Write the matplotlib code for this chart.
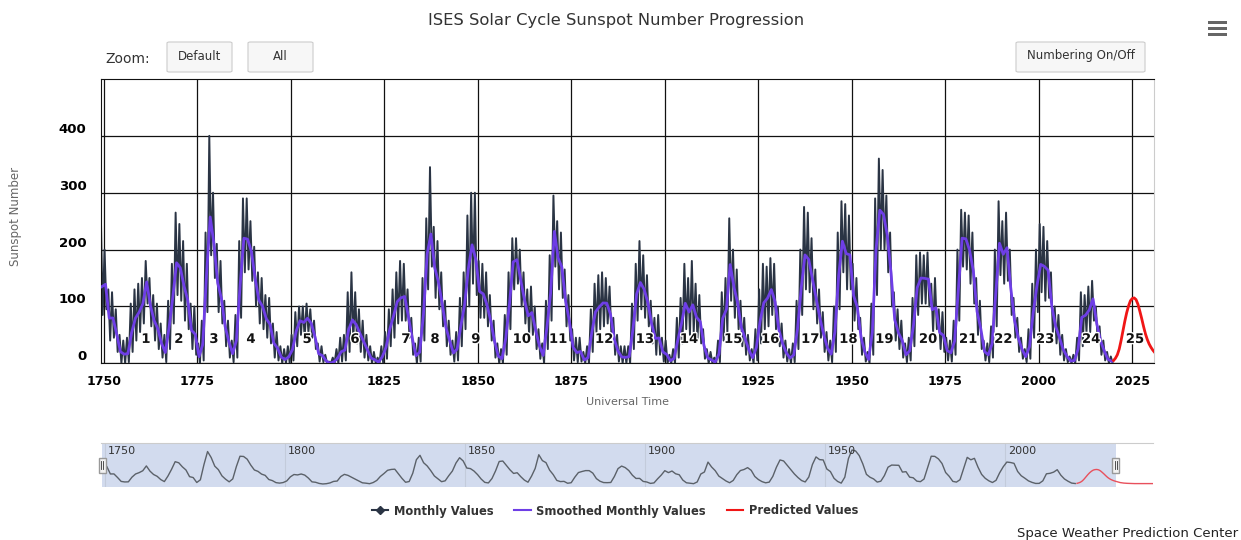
import matplotlib
matplotlib.use('Agg')
import matplotlib.pyplot as plt
import matplotlib.patheffects as pe
from matplotlib.patches import Rectangle, FancyBboxPatch
from matplotlib.lines import Line2D
from matplotlib.transforms import ScaledTranslation, blended_transform_factory

plt.rcParams['font.family'] = ['DejaVu Sans']

# ---- data (sunspot number) ----
years = list(range(1749, 2020))

# smoothed values (one per year)
smoothed = [
    134.7,
    139.0, 79.5, 79.7, 51.2, 20.3, 16.0, 17.0, 54.0, 79.3, 90.0,
    104.8, 143.2, 102.0, 75.2, 60.7, 34.8, 19.0, 63.0, 116.3, 176.8,
    168.0, 136.0, 110.8, 58.0, 51.0, 11.7, 33.0, 154.2, 257.3, 209.8,
    141.3, 113.5, 64.2, 38.0, 17.0, 40.2, 138.2, 220.0, 218.2, 196.8,
    149.8, 111.0, 100.0, 78.2, 68.3, 35.5, 26.7, 10.7, 6.8, 11.3,
    24.2, 56.7, 75.0, 71.8, 79.2, 70.3, 46.8, 16.8, 13.5, 4.2,
    0.0, 2.3, 8.3, 20.3, 23.2, 59.0, 76.3, 68.3, 52.9, 38.5,
    24.2, 9.2, 6.3, 2.2, 11.4, 28.2, 59.9, 83.0, 108.5, 115.2,
    117.4, 80.8, 44.3, 13.4, 19.5, 85.8, 192.7, 227.3, 168.7, 143.0,
    105.5, 63.3, 40.3, 18.1, 25.1, 65.8, 102.7, 166.3, 208.3, 182.5,
    126.3, 122.0, 102.7, 74.1, 39.0, 12.7, 8.2, 43.4, 104.4, 178.3,
    182.2, 146.6, 112.1, 83.5, 89.2, 57.8, 30.7, 13.9, 62.8, 123.6,
    232.0, 185.3, 169.2, 110.1, 74.5, 28.3, 18.9, 20.7, 5.7, 10.0,
    53.7, 90.5, 99.0, 106.1, 105.8, 86.3, 42.4, 21.8, 11.2, 10.4,
    11.8, 59.5, 121.7, 142.0, 130.0, 106.6, 69.4, 43.8, 44.4, 20.2,
    15.7, 4.6, 8.5, 40.8, 70.1, 105.5, 90.1, 102.8, 80.9, 73.2,
    30.9, 9.5, 6.0, 2.4, 16.1, 79.0, 95.0, 173.6, 134.6, 105.7,
    62.7, 43.5, 23.7, 9.7, 27.9, 74.0, 106.5, 114.7, 129.7, 108.2,
    59.4, 35.1, 18.6, 9.2, 14.6, 60.2, 132.8, 190.6, 182.6, 148.0,
    113.0, 79.2, 50.8, 27.1, 16.1, 55.3, 154.3, 214.7, 193.0, 190.7,
    118.9, 98.3, 45.0, 20.1, 6.6, 54.2, 200.7, 269.3, 261.7, 225.1,
    159.0, 76.4, 53.4, 39.9, 15.0, 22.0, 66.8, 132.9, 150.0, 149.4,
    148.0, 94.4, 97.6, 54.1, 49.2, 22.5, 18.4, 39.3, 131.0, 220.1,
    218.9, 198.9, 162.4, 91.0, 60.5, 20.6, 14.8, 33.9, 123.0, 211.1,
    191.8, 203.3, 133.0, 76.1, 44.9, 25.1, 11.6, 28.9, 88.3, 136.3,
    173.9, 170.4, 163.6, 99.3, 65.3, 45.8, 24.7, 12.6, 4.2, 4.8,
    24.9, 80.8, 84.5, 94.0, 113.3, 69.8, 39.8, 21.7, 7.0, 3.6,
]

# monthly values: highest and lowest month of each year
monthly_high = [
    265,
    200, 130, 125, 95, 50, 40, 45, 105, 130, 140,
    150, 180, 150, 120, 105, 70, 50, 110, 175, 265,
    245, 215, 175, 105, 100, 35, 75, 230, 400, 300,
    210, 180, 110, 75, 40, 85, 215, 290, 290, 250,
    205, 160, 150, 120, 115, 70, 55, 30, 25, 30,
    50, 90, 100, 100, 105, 95, 75, 35, 30, 15,
    3, 10, 25, 45, 50, 125, 160, 125, 95, 75,
    50, 30, 20, 10, 30, 55, 95, 130, 160, 180,
    175, 130, 80, 35, 45, 150, 255, 345, 240, 215,
    160, 110, 75, 40, 55, 115, 160, 260, 300, 300,
    180, 175, 160, 120, 75, 35, 25, 85, 160, 220,
    220, 200, 160, 130, 135, 100, 60, 35, 110, 190,
    295, 250, 230, 165, 120, 60, 45, 45, 20, 30,
    95, 140, 155, 160, 150, 135, 80, 50, 30, 30,
    30, 105, 175, 215, 190, 155, 110, 80, 85, 45,
    40, 15, 25, 80, 115, 175, 150, 180, 140, 120,
    60, 25, 20, 10, 40, 125, 150, 255, 200, 165,
    110, 80, 50, 25, 60, 130, 175, 170, 185, 175,
    100, 70, 40, 25, 35, 110, 200, 275, 265, 220,
    165, 130, 90, 55, 40, 100, 230, 285, 280, 260,
    175, 150, 80, 45, 20, 105, 290, 360, 340, 295,
    230, 125, 95, 75, 35, 45, 115, 190, 195, 190,
    195, 140, 150, 95, 90, 45, 40, 75, 200, 270,
    265, 260, 230, 150, 110, 40, 35, 65, 200, 285,
    250, 265, 200, 115, 80, 45, 25, 60, 140, 200,
    245, 240, 215, 160, 100, 85, 50, 25, 12, 15,
    45, 125, 120, 135, 145, 100, 65, 40, 20, 12,
]
monthly_low = [
    85,
    95, 40, 45, 20, 0, 0, 2, 20, 40, 55,
    70, 105, 65, 40, 25, 10, 2, 25, 70, 120,
    110, 75, 60, 25, 15, 0, 5, 90, 190, 150,
    90, 70, 30, 10, 2, 10, 80, 160, 165, 145,
    100, 70, 60, 45, 35, 10, 5, 0, 0, 0,
    5, 30, 50, 45, 55, 45, 25, 3, 2, 0,
    0, 0, 0, 3, 5, 20, 40, 35, 20, 10,
    5, 0, 0, 0, 0, 8, 30, 45, 70, 75,
    75, 45, 15, 0, 3, 40, 130, 170, 115, 95,
    65, 30, 15, 3, 5, 30, 60, 100, 140, 120,
    80, 80, 65, 40, 10, 0, 0, 15, 60, 130,
    140, 100, 70, 50, 50, 25, 8, 0, 25, 75,
    170, 130, 115, 65, 40, 5, 2, 3, 0, 0,
    20, 55, 60, 65, 70, 50, 15, 3, 0, 0,
    0, 25, 75, 95, 80, 65, 35, 15, 15, 3,
    0, 0, 0, 10, 35, 60, 50, 55, 40, 35,
    8, 0, 0, 0, 2, 40, 55, 110, 80, 60,
    30, 15, 5, 0, 5, 35, 60, 65, 85, 60,
    30, 10, 3, 0, 2, 25, 85, 130, 125, 95,
    70, 45, 20, 5, 2, 20, 95, 160, 130, 130,
    75, 60, 15, 3, 0, 15, 120, 200, 200, 160,
    100, 40, 25, 10, 2, 5, 30, 85, 105, 105,
    100, 55, 60, 25, 20, 5, 3, 15, 75, 170,
    165, 140, 105, 50, 25, 5, 2, 10, 65, 155,
    140, 145, 85, 45, 20, 8, 2, 8, 45, 90,
    125, 110, 115, 55, 35, 15, 5, 2, 0, 0,
    5, 30, 55, 55, 75, 40, 15, 5, 0, 0,
]

# cycle 25 prediction
pred_years = [2020.0, 2020.5, 2021.0, 2021.5, 2022.0, 2022.5, 2023.0, 2023.5,
              2024.0, 2024.5, 2025.0, 2025.5, 2026.0, 2026.5, 2027.0, 2027.5,
              2028.0, 2028.5, 2029.0, 2029.5, 2030.0, 2030.5, 2031.0, 2032.0,
              2033.0, 2034.0, 2035.0, 2036.0, 2037.0, 2038.0, 2039.0, 2040.0,
              2041.0]
pred_values = [5, 9, 15, 25, 40, 57, 74, 89,
               101, 110, 114, 115, 112, 104, 92, 79,
               65, 52, 42, 34, 28, 23, 19, 11,
               7, 5, 4, 3, 3, 3, 3, 3,
               3]

cycle_numbers = list(range(1, 26))
cycle_years = [1761.3, 1770.1, 1779.5, 1789.4, 1804.4, 1817.2, 1830.8, 1838.6,
               1849.5, 1861.8, 1871.5, 1883.8, 1894.7, 1906.5, 1918.3, 1928.2,
               1938.9, 1949.1, 1958.7, 1970.4, 1981.1, 1990.5, 2001.7, 2014.0,
               2025.7]

x_ticks = list(range(1750, 2026, 25))
y_ticks = [0, 100, 200, 300, 400]

# ---- figure ----
W, H = 1241, 540
def fx(x):
    return x / W
def fy(y):
    return 1 - y / H

MONTHLY = '#2a3444'
SMOOTH = '#6e3ee6'
PRED = '#f01616'

fig = plt.figure(figsize=(W / 100, H / 100), dpi=100)
ax = fig.add_axes([fx(101), fy(363.3), fx(1154) - fx(101), fy(79) - fy(363.3)])

mx, my = [], []
for yr, hi, lo in zip(years, monthly_high, monthly_low):
    mx += [yr + 0.25, yr + 0.75]
    my += [hi, lo]
ax.plot(mx, my, color=MONTHLY, lw=1.4, zorder=2)
ax.plot([y + 0.5 for y in years], smoothed, color=SMOOTH, lw=2, zorder=3)
ax.plot(pred_years, pred_values, color=PRED, lw=2, zorder=3)

for n, yr in zip(cycle_numbers, cycle_years):
    ax.text(yr, 42, str(n), ha='center', va='center', fontsize=9.5,
            fontweight='bold', color='#111111', zorder=5,
            path_effects=[pe.withStroke(linewidth=2, foreground='white')])

ax.set_xlim(1749.3, 2030.8)
ax.set_ylim(0, 500)
ax.set_xticks(x_ticks)
ax.set_yticks(y_ticks)
ax.grid(True, color='#111111', lw=0.9)
ax.set_axisbelow(True)
ax.tick_params(axis='x', length=0, pad=8.5, labelsize=9)
ax.tick_params(axis='y', length=0, pad=10.5, labelsize=9.5)
for lbl in ax.get_xticklabels():
    lbl.set_fontweight('bold')
for lbl in ax.get_yticklabels():
    lbl.set_fontweight('bold')
    lbl.set_transform(lbl.get_transform() + ScaledTranslation(0, 8 / 100, fig.dpi_scale_trans))
for s in ['left', 'top', 'bottom']:
    ax.spines[s].set_color('#111111')
ax.spines['right'].set_color('#cccccc')

# ---- texts ----
fig.text(fx(616), fy(21), 'ISES Solar Cycle Sunspot Number Progression',
         ha='center', va='center', fontsize=11.8, color='#333333')
fig.text(fx(16), fy(216), 'Sunspot Number', rotation=90, ha='center', va='center',
         fontsize=8.5, color='#666666')
fig.text(fx(627), fy(402), 'Universal Time', ha='center', va='center',
         fontsize=8, color='#666666')
fig.text(fx(1238), fy(533), 'Space Weather Prediction Center', ha='right', va='center',
         fontsize=9.5, color='#222222')
fig.text(fx(105), fy(59), 'Zoom:', ha='left', va='center', fontsize=10, color='#333333')

def button(x0, x1, label):
    fig.add_artist(FancyBboxPatch((fx(x0), fy(72)), fx(x1) - fx(x0), fy(42) - fy(72),
                                  boxstyle='round,pad=0,rounding_size=0.002',
                                  transform=fig.transFigure, fc='#f7f7f7',
                                  ec='#cccccc', lw=0.8))
    fig.text(fx((x0 + x1) / 2), fy(56), label, ha='center', va='center',
             fontsize=8.5, color='#333333')

button(167, 232, 'Default')
button(248, 313, 'All')
button(1016, 1145, 'Numbering On/Off')

# menu icon
for yb in [21, 27, 33]:
    fig.add_artist(Rectangle((fx(1208), fy(yb + 3)), fx(1227) - fx(1208), 3 / H,
                             transform=fig.transFigure, fc='#666666', ec='none'))

# ---- navigator ----
nav = fig.add_axes([fx(101), fy(487), fx(1153) - fx(101), fy(443) - fy(487)])
nav.set_xlim(1748.9, 2041.1)
nav.set_ylim(-24, 325)
nav.axvspan(1749.3, 2030.8, color='#d2dbee', lw=0, zorder=0)
bt = blended_transform_factory(nav.transData, nav.transAxes)
for yr in range(1750, 2001, 50):
    nav.axvline(yr, color='#c3cbdb', lw=0.8, zorder=1)
    nav.text(yr, 1, str(yr), ha='left', va='center', fontsize=8, color='#333333',
             transform=bt + ScaledTranslation(3 / 100, -8 / 100, fig.dpi_scale_trans))
nav.plot([y + 0.5 for y in years], smoothed, color='#5b6169', lw=1, zorder=2)
nav.plot(pred_years, pred_values, color='#e8505c', lw=1, zorder=2)
nav.set_xticks([])
nav.set_yticks([])
for s in ['left', 'right', 'bottom']:
    nav.spines[s].set_visible(False)
nav.spines['top'].set_color('#cccccc')

for hx in [1749.3, 2030.8]:
    ht = fig.dpi_scale_trans + ScaledTranslation(hx, 0.5, bt)
    nav.add_artist(Rectangle((-3.5 / 100, -7.5 / 100), 7 / 100, 15 / 100, transform=ht,
                             fc='#f2f2f2', ec='#999999', lw=1, clip_on=False, zorder=4))
    for dx in [-1, 1]:
        nav.add_artist(Line2D([dx / 100, dx / 100], [-4 / 100, 4 / 100], transform=ht,
                              color='#333333', lw=0.6, clip_on=False, zorder=5))

# ---- legend ----
handles = [
    Line2D([], [], color=MONTHLY, lw=1.5, marker='D', markersize=4, label='Monthly Values'),
    Line2D([], [], color=SMOOTH, lw=1.5, label='Smoothed Monthly Values'),
    Line2D([], [], color=PRED, lw=1.5, label='Predicted Values'),
]
leg = fig.legend(handles=handles, loc='center', bbox_to_anchor=(fx(615), fy(511)),
                 ncol=3, frameon=False, prop={'weight': 'bold', 'size': 8.3},
                 handlelength=1.4, columnspacing=1.8, handletextpad=0.5)
for t in leg.get_texts():
    t.set_color('#333333')

fig.savefig('out.png', dpi=100)
